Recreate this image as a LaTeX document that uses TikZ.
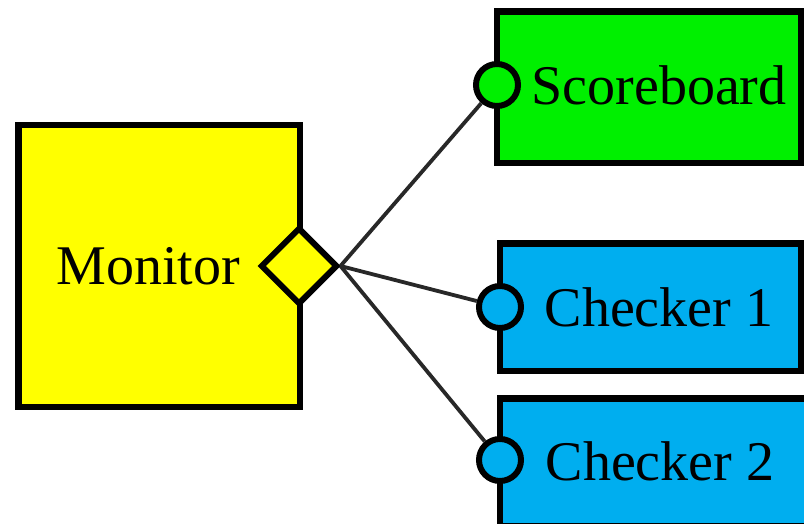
\documentclass[tikz,border=0pt]{standalone}
\usepackage{fontspec}
\setmainfont{Liberation Serif}
\usetikzlibrary{shapes.geometric}
\definecolor{monyellow}{RGB}{255,255,0}
\definecolor{sbgreen}{RGB}{0,240,0}
\definecolor{chkblue}{RGB}{0,174,239}
\definecolor{wiregray}{RGB}{40,40,40}
\tikzset{
  block/.style={draw=black, line width=6.5pt, rectangle, inner sep=0pt},
  lbl/.style={font=\fontsize{56}{60}\selectfont, inner sep=0pt, anchor=center},
  portpin/.style={draw=black, line width=6pt, circle, inner sep=0pt, minimum size=42pt},
  aport/.style={draw=black, line width=6pt, diamond, inner sep=0pt, minimum width=77pt, minimum height=77pt, fill=monyellow},
  wire/.style={draw=wiregray, line width=3.8pt}
}
\begin{document}
\begin{tikzpicture}[x=1pt, y=-1pt]
  \useasboundingbox (0,0) rectangle (804,524);
  % component boxes
  \node[block, fill=monyellow, minimum width=281.5pt, minimum height=282pt] (mon) at (159.25,266) {};
  \node[block, fill=sbgreen, minimum width=304pt, minimum height=151.5pt] (sb) at (649,87.25) {};
  \node[block, fill=chkblue, minimum width=301pt, minimum height=127.5pt] (ck1) at (650.5,307.25) {};
  \node[block, fill=chkblue, minimum width=320pt, minimum height=128pt] (ck2) at (660,462.5) {};
  % labels
  \node[lbl] (monlbl) at (148,266) {Monitor};
  \node[lbl] (sblbl) at (659,85) {Scoreboard};
  \node[lbl] (ck1lbl) at (659,307) {Checker 1};
  \node[lbl] (ck2lbl) at (660,461) {Checker 2};
  % ports
  \node[aport] (ap) at (299,266) {};
  \node[portpin, fill=sbgreen] (sbin) at (497,85) {};
  \node[portpin, fill=chkblue] (ck1in) at (500,307) {};
  \node[portpin, fill=chkblue] (ck2in) at (500,460) {};
  % analysis connections
  \draw[wire] (ap.east) -- (sbin);
  \draw[wire] (ap.east) -- (ck1in);
  \draw[wire] (ap.east) -- (ck2in);
\end{tikzpicture}
\end{document}
